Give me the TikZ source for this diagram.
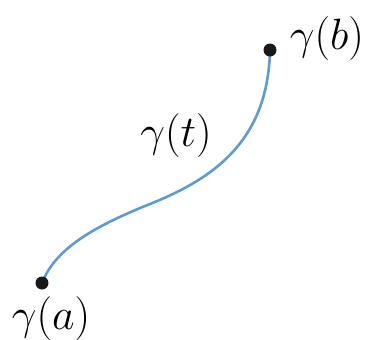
\documentclass[tikz,border=0pt]{standalone}
\definecolor{curveblue}{RGB}{95,155,205}
\newcommand{\biglbl}[1]{\scalebox{1.77}{\Huge$#1$}}
\begin{document}
\begin{tikzpicture}[x=1bp,y=-1bp,
  lbl/.style={inner sep=0pt,anchor=base},
  dotpt/.style={circle,fill=black!90,inner sep=0pt,minimum size=13bp},
  curve/.style={draw=curveblue,line width=2.6bp}]
\useasboundingbox (0,0) rectangle (369,340);
\coordinate (a) at (42,283);
\coordinate (m) at (150,204);
\coordinate (b) at (270,50);
\draw[curve] (a) .. controls (55,250) and (90,228) .. (m)
  .. controls (215,178) and (268,140) .. (b);
\node[dotpt] (da) at (a) {};
\node[dotpt] (db) at (b) {};
\node[lbl] (la) at (51,329) {\biglbl{\gamma(a)}};
\node[lbl] (lt) at (176,146) {\biglbl{\gamma(t)}};
\node[lbl] (lb) at (327,49) {\biglbl{\gamma(b)}};
\end{tikzpicture}
\end{document}
